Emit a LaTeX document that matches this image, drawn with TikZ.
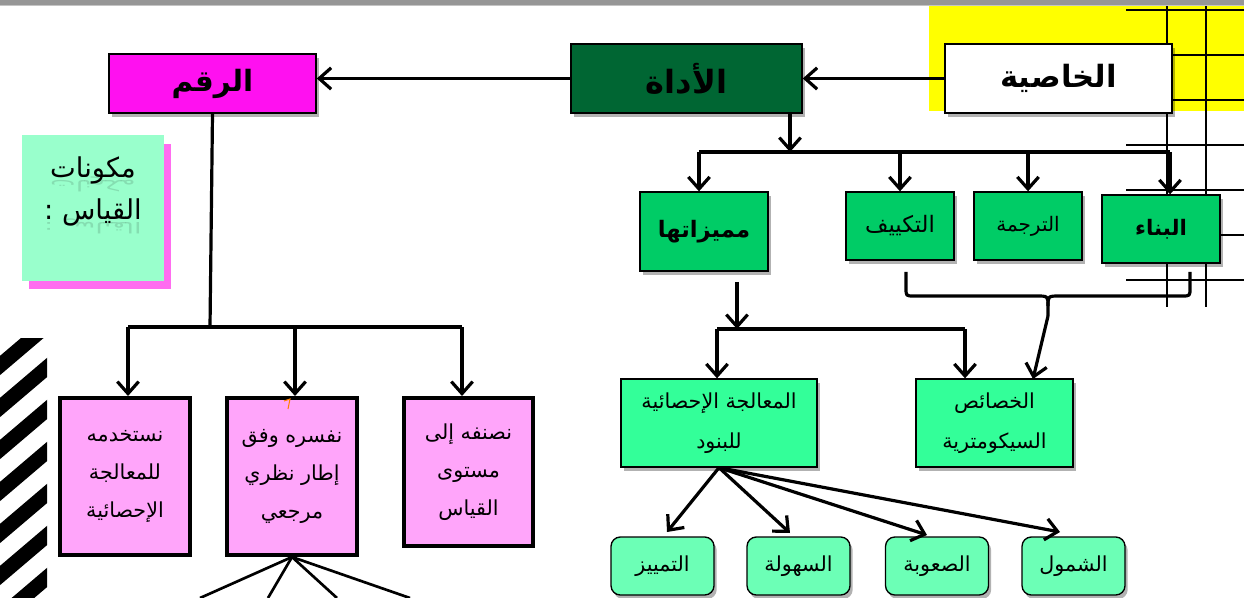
\documentclass[tikz,border=0pt]{standalone}
\usepackage{fontspec}
\newfontfamily\arabicfont[Script=Arabic]{DejaVu Sans}
\TeXXeTstate=1
\usetikzlibrary{arrows.meta,shadows}
\newcommand{\myR}[1]{\beginR #1\endR}
\definecolor{bargray}{HTML}{969696}
\definecolor{barlight}{HTML}{C4C4C4}
\definecolor{yel}{HTML}{FFFF00}
\definecolor{darkgr}{HTML}{006633}
\definecolor{magbox}{HTML}{FF10F0}
\definecolor{greenbox}{HTML}{00CC66}
\definecolor{mintbox}{HTML}{99FFCC}
\definecolor{mintshadow}{HTML}{FF6CF0}
\definecolor{pinkbox}{HTML}{FFA5FA}
\definecolor{brightmint}{HTML}{33FF99}
\definecolor{lightmint}{HTML}{6CFFB6}
\begin{document}
\begin{tikzpicture}[x=0.75pt,y=-0.75pt,
  wh/.style 2 args={minimum width=#1*0.75pt,minimum height=#2*0.75pt},
  boxbase/.style={draw=black,inner sep=0pt,align=center,text=black},
  shad/.style={drop shadow={shadow xshift=2pt,shadow yshift=-3pt,opacity=0.3,fill=black}},
  bigtitle/.style={boxbase,shad,line width=1.1pt,font=\arabicfont\fontsize{24}{28}\selectfont\bfseries},
  greenb/.style={boxbase,shad,fill=greenbox,line width=1pt},
  midb/.style={boxbase,shad,fill=brightmint,line width=1pt,font=\arabicfont\fontsize{15.5}{30}\selectfont},
  smallb/.style={boxbase,shad,fill=lightmint,line width=1pt,rounded corners=7pt,wh={103}{58},font=\arabicfont\fontsize{15.5}{18}\selectfont},
  pinkb/.style={boxbase,fill=pinkbox,line width=3pt,font=\arabicfont\fontsize{15.5}{28.5}\selectfont},
  conn/.style={draw=black,line width=2.4pt},
  arr/.style={conn,-{Straight Barb[length=9pt,width=16pt]}},
  gridl/.style={draw=black,line width=0.8pt},
  mukt/.style={font=\arabicfont\fontsize{20.5}{24}\selectfont,anchor=base,inner sep=0pt},
  mukr/.style={mukt,yscale=-0.55,transform shape,text opacity=0.13}
]
\useasboundingbox (0,0) rectangle (1244,598);
\fill[white] (0,0) rectangle (1244,598);
% top bar
\fill[bargray] (0,0) rectangle (1244,5);
\fill[barlight] (0,5) rectangle (1244,6.5);
% yellow area and grid
\fill[yel] (929,6.5) rectangle (1244,111);
\foreach \gx in {1167,1206} \draw[gridl] (\gx,6.5) -- (\gx,307);
\foreach \gy in {10,55,100,145,190,235,280} \draw[gridl] (1126,\gy) -- (1244,\gy);
% stripes at left
\begin{scope}
\clip (0,338) rectangle (47,598);
\foreach \k in {0,...,7} {
  \pgfmathsetmacro{\yc}{325.5+42*\k}
  \draw[black,line width=11pt] (60,\yc-11.06) -- (-10,\yc+48.5);
}
\end{scope}
% main nodes
\node[bigtitle,fill=white,wh={227}{69},font=\arabicfont\fontsize{23}{28}\selectfont\bfseries] (khas) at (1058.5,78.5) {\myR{الخاصية}};
\node[bigtitle,fill=darkgr,wh={231}{69}] (adah) at (686.5,78.5) {\myR{الأداة}};
\node[bigtitle,fill=magbox,wh={207}{59},font=\arabicfont\fontsize{22}{28}\selectfont\bfseries] (raqm) at (212.5,83.5) {\myR{الرقم}};
% mukawwinat box
\fill[mintshadow] (29,144) rectangle (171,289);
\node[fill=mintbox,inner sep=0pt,wh={142}{146}] (muk) at (93,208) {};
\node[mukt] (muk1) at (93,178) {\myR{مكونات}};
\node[mukr] (muk1r) at (93,181) {\myR{مكونات}};
\node[mukt] (muk2) at (93,220) {\myR{القياس :}};
\node[mukr] (muk2r) at (93,223) {\myR{القياس :}};
% green boxes
\node[greenb,wh={128}{79},font=\arabicfont\fontsize{17}{20}\selectfont\bfseries] (mum) at (704,231.5) {\myR{مميزاتها}};
\node[greenb,wh={108}{68},font=\arabicfont\fontsize{17}{20}\selectfont] (tak) at (900,226) {\myR{التكييف}};
\node[greenb,wh={108}{68},font=\arabicfont\fontsize{15}{18}\selectfont] (tar) at (1028,226) {\myR{الترجمة}};
\node[greenb,wh={118}{68},font=\arabicfont\fontsize{16}{18}\selectfont\bfseries] (bin) at (1161,229) {\myR{البناء}};
% middle boxes
\node[midb,wh={196}{88}] (muaj) at (719,423) {\myR{المعالجة الإحصائية}\\\myR{للبنود}};
\node[midb,wh={157}{88}] (khs) at (994.5,423) {\myR{الخصائص}\\\myR{السيكومترية}};
% bottom boxes
\node[smallb] (tam) at (662.5,566) {\myR{التمييز}};
\node[smallb] (suh) at (798.5,566) {\myR{السهولة}};
\node[smallb] (sub) at (937,566) {\myR{الصعوبة}};
\node[smallb] (shu) at (1073.5,566) {\myR{الشمول}};
% pink boxes
\node[pinkb,wh={130}{157}] (p1) at (125,476.5) {\myR{نستخدمه}\\\myR{للمعالجة}\\\myR{الإحصائية}};
\node[pinkb,wh={130}{157}] (p2) at (292,476.5) {\myR{نفسره وفق}\\\myR{إطار نظري}\\\myR{مرجعي}};
\node[pinkb,wh={129}{148}] (p3) at (468.5,472) {\myR{نصنفه إلى}\\\myR{مستوى}\\\myR{القياس}};
\draw[orange,line width=0.8pt] (284,401) -- (290,399) -- (288,409);
% coordinates
\coordinate (rj) at (210,327);
\coordinate (rl) at (128,327);
\coordinate (rm) at (295,327);
\coordinate (rr) at (462,327);
\coordinate (aj) at (790,152);
\coordinate (ajl) at (699,152);
\coordinate (ajr) at (1170,152);
\coordinate (ms) at (737,282);
\coordinate (mj) at (737,329);
\coordinate (mjl) at (717,329);
\coordinate (mjr) at (965,329);
\coordinate (bt) at (1048,316);
\coordinate (kt) at (1033,379);
\coordinate (t1) at (667,532);
\coordinate (t2) at (790,533);
\coordinate (t3) at (927,535);
\coordinate (t4) at (1060,532);
\coordinate (f1) at (200,598);
\coordinate (f2) at (268,598);
\coordinate (f3) at (337,598);
\coordinate (f4) at (410,598);
% connectors
\draw[arr] (khas.west) -- (adah.east);
\draw[arr] (adah.west) -- (adah.west -| raqm.east);
\draw[conn] (raqm.south) -- (rj);
\draw[conn] (rl) -- (rr);
\draw[arr] (rl) -- (rl |- p1.north);
\draw[arr] (rm) -- (rm |- p2.north);
\draw[arr] (rr) -- (rr |- p3.north);
\draw[arr] (aj |- adah.south) -- (aj);
\draw[conn] (ajl) -- (ajr);
\draw[arr] (ajl) -- (ajl |- mum.north);
\draw[arr] (ajl -| tak.north) -- (tak.north);
\draw[arr] (ajl -| tar.north) -- (tar.north);
\draw[arr] (ajr) -- (ajr |- bin.north);
\draw[arr] (ms) -- (mj);
\draw[conn] (mjl) -- (mjr);
\draw[arr] (mjl) -- (mjl |- muaj.north);
\draw[arr] (mjr) -- (mjr |- khs.north);
% brace under the three boxes
\draw[conn,line join=round] (906,272) -- (906,288) .. controls (906,296) .. (914,296) -- (1036,296) .. controls (1048,296) .. (1048,306) -- (bt);
\draw[conn,line join=round] (1190,272) -- (1190,288) .. controls (1190,296) .. (1182,296) -- (1060,296) .. controls (1048,296) .. (1048,306);
\draw[arr] (bt) -- (kt);
% fan from muaj
\draw[arr] (muaj.south) -- (t1);
\draw[arr] (muaj.south) -- (t2);
\draw[arr] (muaj.south) -- (t3);
\draw[arr] (muaj.south) -- (t4);
% fan from p2
\draw[conn,line width=2pt] (p2.south) -- (f1);
\draw[conn,line width=2pt] (p2.south) -- (f2);
\draw[conn,line width=2pt] (p2.south) -- (f3);
\draw[conn,line width=2pt] (p2.south) -- (f4);
\end{tikzpicture}
\end{document}
